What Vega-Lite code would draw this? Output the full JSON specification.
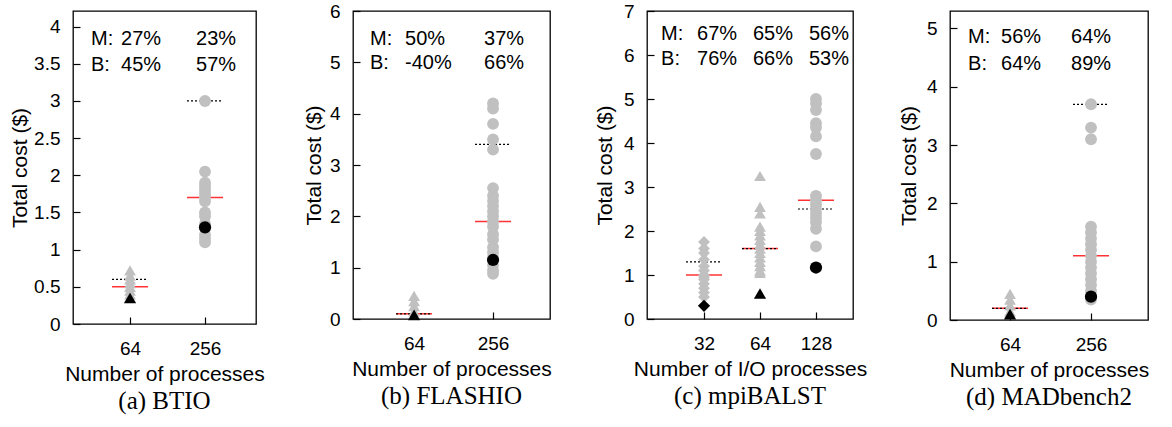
{
  "$schema": "https://vega.github.io/schema/vega-lite/v6.json",
  "padding": {"left": 8, "top": 1, "right": 0, "bottom": 0},
  "spacing": 97,
  "bounds": "flush",
  "resolve": {"scale": {"shape": "independent"}},
  "config": {
    "font": "Liberation Sans",
    "view": {"stroke": "black", "strokeWidth": 1.3},
    "axis": {"grid": false, "domain": false, "tickColor": "black", "tickSize": -7, "tickWidth": 1.2, "labelFontSize": 19, "titleFontSize": 21, "titleFontWeight": "normal", "labelColor": "black", "titleColor": "black", "labelFont": "Liberation Sans", "titleFont": "Liberation Sans"},
    "axisY": {"format": "~g", "labelPadding": 20},
    "axisX": {"format": "d", "labelFlush": false, "labelPadding": 22, "titlePadding": 5},
    "title": {"font": "Liberation Serif", "fontSize": 25, "fontWeight": "normal", "color": "black", "orient": "bottom", "offset": 5}
  },
  "datasets": {
    "pts_a": [
      {"n": 64, "cost": 0.72, "run": "sample"}, {"n": 64, "cost": 0.65, "run": "sample"}, {"n": 64, "cost": 0.6, "run": "sample"}, {"n": 64, "cost": 0.55, "run": "sample"}, {"n": 64, "cost": 0.5, "run": "sample"}, {"n": 64, "cost": 0.45, "run": "sample"}, {"n": 64, "cost": 0.4, "run": "sample"}, {"n": 64, "cost": 0.35, "run": "best"},
      {"n": 256, "cost": 3.0, "run": "sample"}, {"n": 256, "cost": 2.05, "run": "sample"}, {"n": 256, "cost": 1.9, "run": "sample"}, {"n": 256, "cost": 1.85, "run": "sample"}, {"n": 256, "cost": 1.8, "run": "sample"}, {"n": 256, "cost": 1.75, "run": "sample"}, {"n": 256, "cost": 1.7, "run": "sample"}, {"n": 256, "cost": 1.65, "run": "sample"}, {"n": 256, "cost": 1.5, "run": "sample"}, {"n": 256, "cost": 1.45, "run": "sample"}, {"n": 256, "cost": 1.35, "run": "sample"}, {"n": 256, "cost": 1.2, "run": "sample"}, {"n": 256, "cost": 1.15, "run": "sample"}, {"n": 256, "cost": 1.1, "run": "sample"}, {"n": 256, "cost": 1.3, "run": "best"}
    ],
    "lines_a": [{"n": 64, "mean": 0.5, "predicted": 0.6, "m": "27%", "b": "45%"}, {"n": 256, "mean": 1.7, "predicted": 3.0, "m": "23%", "b": "57%"}],
    "pts_b": [
      {"n": 64, "cost": 0.45, "run": "sample"}, {"n": 64, "cost": 0.35, "run": "sample"}, {"n": 64, "cost": 0.25, "run": "sample"}, {"n": 64, "cost": 0.15, "run": "sample"}, {"n": 64, "cost": 0.08, "run": "best"},
      {"n": 256, "cost": 4.2, "run": "sample"}, {"n": 256, "cost": 4.1, "run": "sample"}, {"n": 256, "cost": 3.8, "run": "sample"}, {"n": 256, "cost": 3.5, "run": "sample"}, {"n": 256, "cost": 3.3, "run": "sample"}, {"n": 256, "cost": 2.55, "run": "sample"}, {"n": 256, "cost": 2.4, "run": "sample"}, {"n": 256, "cost": 2.3, "run": "sample"}, {"n": 256, "cost": 2.2, "run": "sample"}, {"n": 256, "cost": 2.1, "run": "sample"}, {"n": 256, "cost": 2.0, "run": "sample"}, {"n": 256, "cost": 1.9, "run": "sample"}, {"n": 256, "cost": 1.8, "run": "sample"}, {"n": 256, "cost": 1.65, "run": "sample"}, {"n": 256, "cost": 1.55, "run": "sample"}, {"n": 256, "cost": 1.4, "run": "sample"}, {"n": 256, "cost": 1.3, "run": "sample"}, {"n": 256, "cost": 1.2, "run": "sample"}, {"n": 256, "cost": 1.05, "run": "sample"}, {"n": 256, "cost": 0.95, "run": "sample"}, {"n": 256, "cost": 0.88, "run": "sample"}, {"n": 256, "cost": 1.15, "run": "best"}
    ],
    "lines_b": [{"n": 64, "mean": 0.1, "predicted": 0.1, "m": "50%", "b": "-40%"}, {"n": 256, "mean": 1.9, "predicted": 3.4, "m": "37%", "b": "66%"}],
    "pts_c": [
      {"n": 32, "cost": 1.75, "run": "sample"}, {"n": 32, "cost": 1.6, "run": "sample"}, {"n": 32, "cost": 1.5, "run": "sample"}, {"n": 32, "cost": 1.35, "run": "sample"}, {"n": 32, "cost": 1.2, "run": "sample"}, {"n": 32, "cost": 1.1, "run": "sample"}, {"n": 32, "cost": 1.0, "run": "sample"}, {"n": 32, "cost": 0.95, "run": "sample"}, {"n": 32, "cost": 0.9, "run": "sample"}, {"n": 32, "cost": 0.8, "run": "sample"}, {"n": 32, "cost": 0.7, "run": "sample"}, {"n": 32, "cost": 0.6, "run": "sample"}, {"n": 32, "cost": 0.5, "run": "sample"}, {"n": 32, "cost": 0.3, "run": "best"},
      {"n": 64, "cost": 3.25, "run": "sample"}, {"n": 64, "cost": 2.55, "run": "sample"}, {"n": 64, "cost": 2.4, "run": "sample"}, {"n": 64, "cost": 2.1, "run": "sample"}, {"n": 64, "cost": 2.0, "run": "sample"}, {"n": 64, "cost": 1.9, "run": "sample"}, {"n": 64, "cost": 1.8, "run": "sample"}, {"n": 64, "cost": 1.7, "run": "sample"}, {"n": 64, "cost": 1.6, "run": "sample"}, {"n": 64, "cost": 1.5, "run": "sample"}, {"n": 64, "cost": 1.4, "run": "sample"}, {"n": 64, "cost": 1.3, "run": "sample"}, {"n": 64, "cost": 1.2, "run": "sample"}, {"n": 64, "cost": 1.1, "run": "sample"}, {"n": 64, "cost": 1.05, "run": "sample"}, {"n": 64, "cost": 0.58, "run": "best"},
      {"n": 128, "cost": 5.0, "run": "sample"}, {"n": 128, "cost": 4.9, "run": "sample"}, {"n": 128, "cost": 4.75, "run": "sample"}, {"n": 128, "cost": 4.45, "run": "sample"}, {"n": 128, "cost": 4.35, "run": "sample"}, {"n": 128, "cost": 4.15, "run": "sample"}, {"n": 128, "cost": 3.75, "run": "sample"}, {"n": 128, "cost": 2.8, "run": "sample"}, {"n": 128, "cost": 2.7, "run": "sample"}, {"n": 128, "cost": 2.6, "run": "sample"}, {"n": 128, "cost": 2.5, "run": "sample"}, {"n": 128, "cost": 2.4, "run": "sample"}, {"n": 128, "cost": 2.3, "run": "sample"}, {"n": 128, "cost": 2.2, "run": "sample"}, {"n": 128, "cost": 2.05, "run": "sample"}, {"n": 128, "cost": 1.65, "run": "sample"}, {"n": 128, "cost": 1.17, "run": "best"}
    ],
    "lines_c": [{"n": 32, "mean": 1.0, "predicted": 1.3, "m": "67%", "b": "76%"}, {"n": 64, "mean": 1.6, "predicted": 1.6, "m": "65%", "b": "66%"}, {"n": 128, "mean": 2.7, "predicted": 2.5, "m": "56%", "b": "53%"}],
    "pts_d": [
      {"n": 64, "cost": 0.45, "run": "sample"}, {"n": 64, "cost": 0.35, "run": "sample"}, {"n": 64, "cost": 0.25, "run": "sample"}, {"n": 64, "cost": 0.15, "run": "sample"}, {"n": 64, "cost": 0.1, "run": "best"},
      {"n": 256, "cost": 3.7, "run": "sample"}, {"n": 256, "cost": 3.3, "run": "sample"}, {"n": 256, "cost": 3.1, "run": "sample"}, {"n": 256, "cost": 1.6, "run": "sample"}, {"n": 256, "cost": 1.5, "run": "sample"}, {"n": 256, "cost": 1.4, "run": "sample"}, {"n": 256, "cost": 1.3, "run": "sample"}, {"n": 256, "cost": 1.2, "run": "sample"}, {"n": 256, "cost": 1.1, "run": "sample"}, {"n": 256, "cost": 1.0, "run": "sample"}, {"n": 256, "cost": 0.9, "run": "sample"}, {"n": 256, "cost": 0.8, "run": "sample"}, {"n": 256, "cost": 0.7, "run": "sample"}, {"n": 256, "cost": 0.6, "run": "sample"}, {"n": 256, "cost": 0.5, "run": "sample"}, {"n": 256, "cost": 0.4, "run": "sample"}, {"n": 256, "cost": 0.35, "run": "sample"}, {"n": 256, "cost": 0.4, "run": "best"}
    ],
    "lines_d": [{"n": 64, "mean": 0.2, "predicted": 0.2, "m": "56%", "b": "64%"}, {"n": 256, "mean": 1.1, "predicted": 3.7, "m": "64%", "b": "89%"}]
  },
  "hconcat": [
    {
      "width": 183, "height": 313,
      "view": {"stroke": "black", "strokeWidth": 1.3},
      "title": {"text": "(a) BTIO"},
      "layer": [
        {"data": {"name": "lines_a"}, "mark": {"type": "rule", "color": "#ff3333", "strokeWidth": 1.5, "xOffset": -18, "x2Offset": 18},
         "encoding": {
           "x": {"field": "n", "type": "quantitative", "scale": {"type": "log", "base": 2, "domain": [22.3, 657], "nice": false}, "axis": {"values": [64, 256], "title": "Number of processes"}},
           "x2": {"field": "n"},
           "y": {"field": "mean", "type": "quantitative", "scale": {"domain": [0, 4.21], "nice": false}, "axis": {"values": [0, 0.5, 1, 1.5, 2, 2.5, 3, 3.5, 4], "title": "Total cost ($)", "titlePadding": 3}}}},
        {"data": {"name": "lines_a"}, "mark": {"type": "rule", "color": "black", "strokeWidth": 1.2, "strokeDash": [2, 2], "xOffset": -18, "x2Offset": 18}, "encoding": {"x": {"field": "n", "type": "quantitative", "axis": {"values": [64, 256], "title": "Number of processes"}}, "x2": {"field": "n"}, "y": {"field": "predicted", "type": "quantitative", "axis": {"values": [0, 0.5, 1, 1.5, 2, 2.5, 3, 3.5, 4], "title": "Total cost ($)", "titlePadding": 3}}}},
        {"data": {"name": "pts_a"}, "transform": [{"filter": "datum.run == 'sample'"}], "mark": {"type": "point", "filled": true, "opacity": 1, "size": 140, "color": "#c0c0c0"}, "encoding": {"x": {"field": "n", "type": "quantitative", "axis": {"values": [64, 256], "title": "Number of processes"}}, "y": {"field": "cost", "type": "quantitative", "axis": {"values": [0, 0.5, 1, 1.5, 2, 2.5, 3, 3.5, 4], "title": "Total cost ($)", "titlePadding": 3}}, "shape": {"field": "n", "type": "nominal", "scale": {"domain": [64, 256], "range": ["triangle-up", "circle"]}, "legend": null}}},
        {"data": {"name": "pts_a"}, "transform": [{"filter": "datum.run == 'best'"}], "mark": {"type": "point", "filled": true, "opacity": 1, "size": 150, "color": "black"}, "encoding": {"x": {"field": "n", "type": "quantitative", "axis": {"values": [64, 256], "title": "Number of processes"}}, "y": {"field": "cost", "type": "quantitative", "axis": {"values": [0, 0.5, 1, 1.5, 2, 2.5, 3, 3.5, 4], "title": "Total cost ($)", "titlePadding": 3}}, "shape": {"field": "n", "type": "nominal", "scale": {"domain": [64, 256], "range": ["triangle-up", "circle"]}, "legend": null}}},
        {"data": {"name": "lines_a"}, "mark": {"type": "text", "align": "left", "baseline": "middle", "dx": -9, "fontSize": 20}, "encoding": {"x": {"field": "n", "type": "quantitative", "axis": {"values": [64, 256], "title": "Number of processes"}}, "y": {"datum": 3.84, "axis": {"values": [0, 0.5, 1, 1.5, 2, 2.5, 3, 3.5, 4], "title": "Total cost ($)", "titlePadding": 3}}, "text": {"field": "m"}}},
        {"data": {"name": "lines_a"}, "mark": {"type": "text", "align": "left", "baseline": "middle", "dx": -9, "fontSize": 20}, "encoding": {"x": {"field": "n", "type": "quantitative", "axis": {"values": [64, 256], "title": "Number of processes"}}, "y": {"datum": 3.48, "axis": {"values": [0, 0.5, 1, 1.5, 2, 2.5, 3, 3.5, 4], "title": "Total cost ($)", "titlePadding": 3}}, "text": {"field": "b"}}},
        {"data": {"values": [{"row": "M:", "level": 3.84}, {"row": "B:", "level": 3.48}]}, "mark": {"type": "text", "align": "left", "baseline": "middle", "fontSize": 20}, "encoding": {"x": {"datum": 31.1, "axis": {"values": [64, 256], "title": "Number of processes"}}, "y": {"field": "level", "type": "quantitative", "axis": {"values": [0, 0.5, 1, 1.5, 2, 2.5, 3, 3.5, 4], "title": "Total cost ($)", "titlePadding": 3}}, "text": {"field": "row"}}}
      ]
    },
    {
      "width": 197, "height": 308,
      "view": {"stroke": "black", "strokeWidth": 1.3},
      "title": {"text": "(b) FLASHIO"},
      "layer": [
        {"data": {"name": "lines_b"}, "mark": {"type": "rule", "color": "#ff3333", "strokeWidth": 1.5, "xOffset": -18, "x2Offset": 18},
         "encoding": {
           "x": {"field": "n", "type": "quantitative", "scale": {"type": "log", "base": 2, "domain": [21.9, 696], "nice": false}, "axis": {"values": [64, 256], "title": "Number of processes"}},
           "x2": {"field": "n"},
           "y": {"field": "mean", "type": "quantitative", "scale": {"domain": [0, 6], "nice": false}, "axis": {"values": [0, 1, 2, 3, 4, 5, 6], "title": "Total cost ($)", "titlePadding": 5}}}},
        {"data": {"name": "lines_b"}, "mark": {"type": "rule", "color": "black", "strokeWidth": 1.2, "strokeDash": [2, 2], "xOffset": -18, "x2Offset": 18}, "encoding": {"x": {"field": "n", "type": "quantitative", "axis": {"values": [64, 256], "title": "Number of processes"}}, "x2": {"field": "n"}, "y": {"field": "predicted", "type": "quantitative", "axis": {"values": [0, 1, 2, 3, 4, 5, 6], "title": "Total cost ($)", "titlePadding": 5}}}},
        {"data": {"name": "pts_b"}, "transform": [{"filter": "datum.run == 'sample'"}], "mark": {"type": "point", "filled": true, "opacity": 1, "size": 140, "color": "#c0c0c0"}, "encoding": {"x": {"field": "n", "type": "quantitative", "axis": {"values": [64, 256], "title": "Number of processes"}}, "y": {"field": "cost", "type": "quantitative", "axis": {"values": [0, 1, 2, 3, 4, 5, 6], "title": "Total cost ($)", "titlePadding": 5}}, "shape": {"field": "n", "type": "nominal", "scale": {"domain": [64, 256], "range": ["triangle-up", "circle"]}, "legend": null}}},
        {"data": {"name": "pts_b"}, "transform": [{"filter": "datum.run == 'best'"}], "mark": {"type": "point", "filled": true, "opacity": 1, "size": 150, "color": "black"}, "encoding": {"x": {"field": "n", "type": "quantitative", "axis": {"values": [64, 256], "title": "Number of processes"}}, "y": {"field": "cost", "type": "quantitative", "axis": {"values": [0, 1, 2, 3, 4, 5, 6], "title": "Total cost ($)", "titlePadding": 5}}, "shape": {"field": "n", "type": "nominal", "scale": {"domain": [64, 256], "range": ["triangle-up", "circle"]}, "legend": null}}},
        {"data": {"name": "lines_b"}, "mark": {"type": "text", "align": "left", "baseline": "middle", "dx": -9, "fontSize": 20}, "encoding": {"x": {"field": "n", "type": "quantitative", "axis": {"values": [64, 256], "title": "Number of processes"}}, "y": {"datum": 5.46, "axis": {"values": [0, 1, 2, 3, 4, 5, 6], "title": "Total cost ($)", "titlePadding": 5}}, "text": {"field": "m"}}},
        {"data": {"name": "lines_b"}, "mark": {"type": "text", "align": "left", "baseline": "middle", "dx": -9, "fontSize": 20}, "encoding": {"x": {"field": "n", "type": "quantitative", "axis": {"values": [64, 256], "title": "Number of processes"}}, "y": {"datum": 4.98, "axis": {"values": [0, 1, 2, 3, 4, 5, 6], "title": "Total cost ($)", "titlePadding": 5}}, "text": {"field": "b"}}},
        {"data": {"values": [{"row": "M:", "level": 5.46}, {"row": "B:", "level": 4.98}]}, "mark": {"type": "text", "align": "left", "baseline": "middle", "fontSize": 20}, "encoding": {"x": {"datum": 29.5, "axis": {"values": [64, 256], "title": "Number of processes"}}, "y": {"field": "level", "type": "quantitative", "axis": {"values": [0, 1, 2, 3, 4, 5, 6], "title": "Total cost ($)", "titlePadding": 5}}, "text": {"field": "row"}}}
      ]
    },
    {
      "width": 206, "height": 308,
      "view": {"stroke": "black", "strokeWidth": 1.3},
      "title": {"text": "(c) mpiBALST"},
      "layer": [
        {"data": {"name": "lines_c"}, "mark": {"type": "rule", "color": "#ff3333", "strokeWidth": 1.5, "xOffset": -18, "x2Offset": 18},
         "encoding": {
           "x": {"field": "n", "type": "quantitative", "scale": {"type": "log", "base": 2, "domain": [15.8, 202.4], "nice": false}, "axis": {"values": [32, 64, 128], "title": "Number of I/O processes"}},
           "x2": {"field": "n"},
           "y": {"field": "mean", "type": "quantitative", "scale": {"domain": [0, 7], "nice": false}, "axis": {"values": [0, 1, 2, 3, 4, 5, 6, 7], "title": "Total cost ($)", "titlePadding": 8}}}},
        {"data": {"name": "lines_c"}, "mark": {"type": "rule", "color": "black", "strokeWidth": 1.2, "strokeDash": [2, 2], "xOffset": -18, "x2Offset": 18}, "encoding": {"x": {"field": "n", "type": "quantitative", "axis": {"values": [32, 64, 128], "title": "Number of I/O processes"}}, "x2": {"field": "n"}, "y": {"field": "predicted", "type": "quantitative", "axis": {"values": [0, 1, 2, 3, 4, 5, 6, 7], "title": "Total cost ($)", "titlePadding": 8}}}},
        {"data": {"name": "pts_c"}, "transform": [{"filter": "datum.run == 'sample'"}], "mark": {"type": "point", "filled": true, "opacity": 1, "size": 140, "color": "#c0c0c0"}, "encoding": {"x": {"field": "n", "type": "quantitative", "axis": {"values": [32, 64, 128], "title": "Number of I/O processes"}}, "y": {"field": "cost", "type": "quantitative", "axis": {"values": [0, 1, 2, 3, 4, 5, 6, 7], "title": "Total cost ($)", "titlePadding": 8}}, "shape": {"field": "n", "type": "nominal", "scale": {"domain": [32, 64, 128], "range": ["diamond", "triangle-up", "circle"]}, "legend": null}}},
        {"data": {"name": "pts_c"}, "transform": [{"filter": "datum.run == 'best'"}], "mark": {"type": "point", "filled": true, "opacity": 1, "size": 150, "color": "black"}, "encoding": {"x": {"field": "n", "type": "quantitative", "axis": {"values": [32, 64, 128], "title": "Number of I/O processes"}}, "y": {"field": "cost", "type": "quantitative", "axis": {"values": [0, 1, 2, 3, 4, 5, 6, 7], "title": "Total cost ($)", "titlePadding": 8}}, "shape": {"field": "n", "type": "nominal", "scale": {"domain": [32, 64, 128], "range": ["diamond", "triangle-up", "circle"]}, "legend": null}}},
        {"data": {"name": "lines_c"}, "mark": {"type": "text", "align": "left", "baseline": "middle", "dx": -7, "fontSize": 20}, "encoding": {"x": {"field": "n", "type": "quantitative", "axis": {"values": [32, 64, 128], "title": "Number of I/O processes"}}, "y": {"datum": 6.47, "axis": {"values": [0, 1, 2, 3, 4, 5, 6, 7], "title": "Total cost ($)", "titlePadding": 8}}, "text": {"field": "m"}}},
        {"data": {"name": "lines_c"}, "mark": {"type": "text", "align": "left", "baseline": "middle", "dx": -7, "fontSize": 20}, "encoding": {"x": {"field": "n", "type": "quantitative", "axis": {"values": [32, 64, 128], "title": "Number of I/O processes"}}, "y": {"datum": 5.9, "axis": {"values": [0, 1, 2, 3, 4, 5, 6, 7], "title": "Total cost ($)", "titlePadding": 8}}, "text": {"field": "b"}}},
        {"data": {"values": [{"row": "M:", "level": 6.47}, {"row": "B:", "level": 5.9}]}, "mark": {"type": "text", "align": "left", "baseline": "middle", "fontSize": 20}, "encoding": {"x": {"datum": 18.8, "axis": {"values": [32, 64, 128], "title": "Number of I/O processes"}}, "y": {"field": "level", "type": "quantitative", "axis": {"values": [0, 1, 2, 3, 4, 5, 6, 7], "title": "Total cost ($)", "titlePadding": 8}}, "text": {"field": "row"}}}
      ]
    },
    {
      "width": 198, "height": 309,
      "view": {"stroke": "black", "strokeWidth": 1.3},
      "title": {"text": "(d) MADbench2"},
      "layer": [
        {"data": {"name": "lines_d"}, "mark": {"type": "rule", "color": "#ff3333", "strokeWidth": 1.5, "xOffset": -18, "x2Offset": 18},
         "encoding": {
           "x": {"field": "n", "type": "quantitative", "scale": {"type": "log", "base": 2, "domain": [22.9, 679], "nice": false}, "axis": {"values": [64, 256], "title": "Number of processes"}},
           "x2": {"field": "n"},
           "y": {"field": "mean", "type": "quantitative", "scale": {"domain": [0, 5.3], "nice": false}, "axis": {"values": [0, 1, 2, 3, 4, 5], "title": "Total cost ($)", "titlePadding": 7}}}},
        {"data": {"name": "lines_d"}, "mark": {"type": "rule", "color": "black", "strokeWidth": 1.2, "strokeDash": [2, 2], "xOffset": -18, "x2Offset": 18}, "encoding": {"x": {"field": "n", "type": "quantitative", "axis": {"values": [64, 256], "title": "Number of processes"}}, "x2": {"field": "n"}, "y": {"field": "predicted", "type": "quantitative", "axis": {"values": [0, 1, 2, 3, 4, 5], "title": "Total cost ($)", "titlePadding": 7}}}},
        {"data": {"name": "pts_d"}, "transform": [{"filter": "datum.run == 'sample'"}], "mark": {"type": "point", "filled": true, "opacity": 1, "size": 140, "color": "#c0c0c0"}, "encoding": {"x": {"field": "n", "type": "quantitative", "axis": {"values": [64, 256], "title": "Number of processes"}}, "y": {"field": "cost", "type": "quantitative", "axis": {"values": [0, 1, 2, 3, 4, 5], "title": "Total cost ($)", "titlePadding": 7}}, "shape": {"field": "n", "type": "nominal", "scale": {"domain": [64, 256], "range": ["triangle-up", "circle"]}, "legend": null}}},
        {"data": {"name": "pts_d"}, "transform": [{"filter": "datum.run == 'best'"}], "mark": {"type": "point", "filled": true, "opacity": 1, "size": 150, "color": "black"}, "encoding": {"x": {"field": "n", "type": "quantitative", "axis": {"values": [64, 256], "title": "Number of processes"}}, "y": {"field": "cost", "type": "quantitative", "axis": {"values": [0, 1, 2, 3, 4, 5], "title": "Total cost ($)", "titlePadding": 7}}, "shape": {"field": "n", "type": "nominal", "scale": {"domain": [64, 256], "range": ["triangle-up", "circle"]}, "legend": null}}},
        {"data": {"name": "lines_d"}, "transform": [{"filter": "datum.n == 64"}], "mark": {"type": "text", "align": "left", "baseline": "middle", "dx": -9, "fontSize": 20}, "encoding": {"x": {"field": "n", "type": "quantitative", "axis": {"values": [64, 256], "title": "Number of processes"}}, "y": {"datum": 4.85, "axis": {"values": [0, 1, 2, 3, 4, 5], "title": "Total cost ($)", "titlePadding": 7}}, "text": {"field": "m"}}},
        {"data": {"name": "lines_d"}, "transform": [{"filter": "datum.n == 64"}], "mark": {"type": "text", "align": "left", "baseline": "middle", "dx": -9, "fontSize": 20}, "encoding": {"x": {"field": "n", "type": "quantitative", "axis": {"values": [64, 256], "title": "Number of processes"}}, "y": {"datum": 4.39, "axis": {"values": [0, 1, 2, 3, 4, 5], "title": "Total cost ($)", "titlePadding": 7}}, "text": {"field": "b"}}},
        {"data": {"name": "lines_d"}, "transform": [{"filter": "datum.n == 256"}], "mark": {"type": "text", "align": "left", "baseline": "middle", "dx": -20, "fontSize": 20}, "encoding": {"x": {"field": "n", "type": "quantitative", "axis": {"values": [64, 256], "title": "Number of processes"}}, "y": {"datum": 4.85, "axis": {"values": [0, 1, 2, 3, 4, 5], "title": "Total cost ($)", "titlePadding": 7}}, "text": {"field": "m"}}},
        {"data": {"name": "lines_d"}, "transform": [{"filter": "datum.n == 256"}], "mark": {"type": "text", "align": "left", "baseline": "middle", "dx": -20, "fontSize": 20}, "encoding": {"x": {"field": "n", "type": "quantitative", "axis": {"values": [64, 256], "title": "Number of processes"}}, "y": {"datum": 4.39, "axis": {"values": [0, 1, 2, 3, 4, 5], "title": "Total cost ($)", "titlePadding": 7}}, "text": {"field": "b"}}},
        {"data": {"values": [{"row": "M:", "level": 4.85}, {"row": "B:", "level": 4.39}]}, "mark": {"type": "text", "align": "left", "baseline": "middle", "fontSize": 20}, "encoding": {"x": {"datum": 31.2, "axis": {"values": [64, 256], "title": "Number of processes"}}, "y": {"field": "level", "type": "quantitative", "axis": {"values": [0, 1, 2, 3, 4, 5], "title": "Total cost ($)", "titlePadding": 7}}, "text": {"field": "row"}}}
      ]
    }
  ]
}
